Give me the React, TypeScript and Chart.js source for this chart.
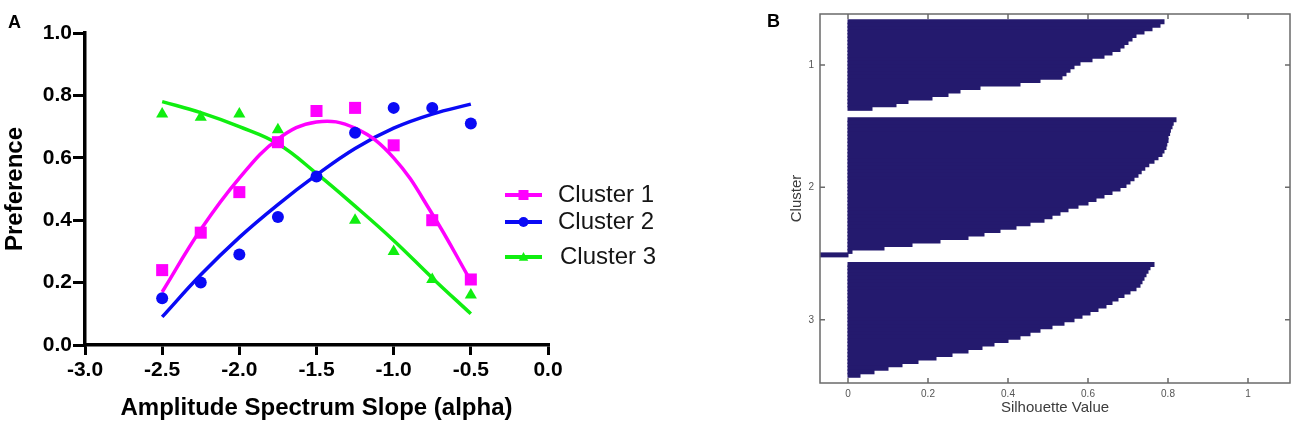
import React, { useEffect, useRef } from 'react';
import { Chart, registerables } from 'chart.js';

Chart.register(...registerables);

// ---------- Panel A data ----------
const alphaValues = [-2.5, -2.25, -2.0, -1.75, -1.5, -1.25, -1.0, -0.75, -0.5];
const cluster1Pref = [0.24, 0.36, 0.49, 0.65, 0.75, 0.76, 0.64, 0.4, 0.21];
const cluster2Pref = [0.15, 0.2, 0.29, 0.41, 0.54, 0.68, 0.76, 0.76, 0.71];
const cluster3Pref: (number | null)[] = [0.74, 0.73, 0.74, 0.69, null, 0.4, 0.3, 0.21, 0.16];
const cluster1Fit = [0.17, 0.37, 0.535, 0.66, 0.715, 0.695, 0.6, 0.42, 0.205];
const cluster2Fit = [0.09, 0.225, 0.345, 0.45, 0.545, 0.63, 0.695, 0.74, 0.772];
const cluster3Fit = [0.78, 0.745, 0.7, 0.645, 0.55, 0.445, 0.335, 0.215, 0.1];
const seriesNames = ['Cluster 1', 'Cluster 2', 'Cluster 3'];
const seriesColors = ['#ff00ff', '#0a0af5', '#10ee10'];
const seriesMarkers = ['rect', 'circle', 'triangle'];

// ---------- Panel B data (silhouette values, sorted per cluster) ----------
const silCluster1 = [0.79, 0.78, 0.76, 0.74, 0.72, 0.71, 0.7, 0.69, 0.68, 0.66, 0.64, 0.61, 0.58, 0.565, 0.555, 0.545, 0.535, 0.48, 0.43, 0.33, 0.28, 0.25, 0.21, 0.15, 0.12, 0.06];
const silCluster2 = [0.82, 0.813, 0.81, 0.806, 0.804, 0.8, 0.8, 0.797, 0.795, 0.79, 0.785, 0.775, 0.765, 0.752, 0.742, 0.733, 0.725, 0.715, 0.705, 0.695, 0.68, 0.66, 0.64, 0.62, 0.6, 0.575, 0.55, 0.53, 0.51, 0.49, 0.455, 0.42, 0.38, 0.34, 0.3, 0.23, 0.16, 0.09, 0.01, -0.07];
const silCluster3 = [0.765, 0.755, 0.75, 0.745, 0.74, 0.735, 0.73, 0.72, 0.705, 0.69, 0.675, 0.66, 0.645, 0.625, 0.605, 0.585, 0.565, 0.54, 0.51, 0.48, 0.455, 0.43, 0.4, 0.365, 0.335, 0.3, 0.26, 0.22, 0.175, 0.135, 0.1, 0.065, 0.03];
const clusterLabels = ['1', '2', '3'];
const silXTicks = [0, 0.2, 0.4, 0.6, 0.8, 1];

const FONT = '"Liberation Sans", Arial, sans-serif';

// layout of clusters along the sample axis (gaps in sample units)
const clusterGaps = [2.3, 1.75];
const edgeMargin = 1.73;

function buildSilhouette() {
  const groups = [silCluster1, silCluster2, silCluster3];
  const points: { x: number; y: number }[] = [];
  const centers: number[] = [];
  let start = 0;
  groups.forEach((g, gi) => {
    g.forEach((v, k) => points.push({ x: v, y: start + k }));
    centers.push(start + (g.length - 1) / 2);
    start += g.length + (gi < clusterGaps.length ? clusterGaps[gi] : 0);
  });
  const last = points[points.length - 1].y;
  return { points, centers, min: -0.5 - edgeMargin, max: last + 0.5 + edgeMargin };
}

function drawMarker(ctx: CanvasRenderingContext2D, style: string, x: number, y: number, r: number) {
  ctx.beginPath();
  if (style === 'rect') {
    ctx.rect(x - r, y - r, 2 * r, 2 * r);
  } else if (style === 'circle') {
    ctx.arc(x, y, r, 0, Math.PI * 2);
  } else {
    ctx.moveTo(x, y - r);
    ctx.lineTo(x + r * 0.95, y + r * 0.75);
    ctx.lineTo(x - r * 0.95, y + r * 0.75);
    ctx.closePath();
  }
  ctx.fill();
}

const legendPluginA = {
  id: 'clusterLegend',
  afterDraw(chart: any) {
    const { ctx, chartArea } = chart;
    const rows = [195, 222, 257];
    const x1 = chartArea.right - 43;
    const x2 = chartArea.right - 6;
    ctx.save();
    seriesNames.forEach((name, i) => {
      const y = rows[i];
      ctx.strokeStyle = seriesColors[i];
      ctx.fillStyle = seriesColors[i];
      ctx.lineWidth = 4;
      ctx.beginPath();
      ctx.moveTo(x1, y);
      ctx.lineTo(x2, y);
      ctx.stroke();
      drawMarker(ctx, seriesMarkers[i], (x1 + x2) / 2, y, 5);
      ctx.fillStyle = '#151515';
      ctx.font = `24px ${FONT}`;
      ctx.textBaseline = 'middle';
      ctx.textAlign = 'left';
      ctx.fillText(name, chartArea.right + 10 + (i === 2 ? 2 : 0), y);
    });
    ctx.restore();
  },
};

const panelLabel = (text: string, x: number, y: number) => ({
  id: 'panelLabel' + text,
  afterDraw(chart: any) {
    const { ctx } = chart;
    ctx.save();
    ctx.fillStyle = '#000';
    ctx.font = `bold 18px ${FONT}`;
    ctx.textBaseline = 'alphabetic';
    ctx.textAlign = 'left';
    ctx.fillText(text, x, y);
    ctx.restore();
  },
});

const matlabFrame = {
  id: 'matlabFrame',
  afterDraw(chart: any) {
    const { ctx, chartArea } = chart;
    const { left, right, top, bottom } = chartArea;
    const xs = chart.scales.x;
    const ys = chart.scales.y;
    ctx.save();
    ctx.strokeStyle = '#6a6a6a';
    ctx.lineWidth = 1.5;
    ctx.strokeRect(left, top, right - left, bottom - top);
    ctx.beginPath();
    xs.ticks.forEach((t: any) => {
      const px = xs.getPixelForValue(t.value);
      ctx.moveTo(px, bottom);
      ctx.lineTo(px, bottom - 5);
      ctx.moveTo(px, top);
      ctx.lineTo(px, top + 5);
    });
    ys.ticks.forEach((t: any) => {
      const py = ys.getPixelForValue(t.value);
      ctx.moveTo(left, py);
      ctx.lineTo(left + 5, py);
      ctx.moveTo(right, py);
      ctx.lineTo(right - 5, py);
    });
    ctx.stroke();
    ctx.restore();
  },
};

function toXY(values: (number | null)[]) {
  return alphaValues
    .map((x, i) => ({ x, y: values[i] }))
    .filter((p) => p.y !== null) as { x: number; y: number }[];
}

export default function App() {
  const refA = useRef<HTMLCanvasElement>(null);
  const refB = useRef<HTMLCanvasElement>(null);

  useEffect(() => {
    const fits = [cluster1Fit, cluster2Fit, cluster3Fit];
    const prefs = [cluster1Pref, cluster2Pref, cluster3Pref];
    const radii = [8.5, 6, 7];
    const datasets: any[] = [];
    [1, 0, 2].forEach((i) => {
      datasets.push({
        label: seriesNames[i],
        data: toXY(prefs[i]),
        showLine: false,
        pointStyle: seriesMarkers[i],
        pointRadius: radii[i],
        pointBackgroundColor: seriesColors[i],
        pointBorderWidth: 0,
        order: 1,
      });
    });
    [0, 1, 2].forEach((i) => {
      datasets.push({
        label: seriesNames[i] + ' fit',
        data: toXY(fits[i]),
        showLine: true,
        borderColor: seriesColors[i],
        borderWidth: 3.5,
        pointRadius: 0,
        tension: 0.4,
        fill: false,
        order: 2,
      });
    });

    const axisCommon = {
      grid: { drawOnChartArea: false, drawTicks: true, color: '#000', lineWidth: 3 },
      border: { display: true, color: '#000', width: 3.5 },
    };

    const chartA = new Chart(refA.current!, {
      type: 'scatter',
      data: { datasets },
      plugins: [legendPluginA, panelLabel('A', 8, 28)],
      options: {
        animation: false,
        responsive: false,
        layout: { padding: { left: 0, right: 212, top: 33, bottom: 0 } },
        plugins: { legend: { display: false }, tooltip: { enabled: false } },
        scales: {
          x: {
            type: 'linear',
            min: -3,
            max: 0,
            ...axisCommon,
            grid: { ...axisCommon.grid, tickLength: 10 },
            ticks: {
              stepSize: 0.5,
              color: '#000',
              padding: 3,
              font: { family: FONT, size: 21, weight: 'bold' },
              callback: (v: any) => Number(v).toFixed(1),
            },
            title: {
              display: true,
              text: 'Amplitude Spectrum Slope (alpha)',
              color: '#000',
              font: { family: FONT, size: 24, weight: 'bold' },
              padding: { top: 0, bottom: 6 },
            },
            afterFit: (s: any) => {
              s.height = 84;
            },
          },
          y: {
            type: 'linear',
            min: 0,
            max: 1,
            ...axisCommon,
            grid: { ...axisCommon.grid, tickLength: 12 },
            ticks: {
              stepSize: 0.2,
              color: '#000',
              padding: 1,
              font: { family: FONT, size: 21, weight: 'bold' },
              callback: (v: any) => Number(v).toFixed(1),
            },
            title: {
              display: true,
              text: 'Preference',
              color: '#000',
              font: { family: FONT, size: 24, weight: 'bold' },
              padding: { top: 1, bottom: 0 },
            },
            afterFit: (s: any) => {
              s.width = 85;
            },
          },
        },
      } as any,
    });

    const sil = buildSilhouette();
    const chartB = new Chart(refB.current!, {
      type: 'bar',
      data: {
        datasets: [
          {
            label: 'Silhouette',
            data: sil.points,
            backgroundColor: '#241a6e',
            borderWidth: 0,
            barPercentage: 1.15,
            categoryPercentage: 1,
            inflateAmount: 0.5,
          },
        ],
      },
      plugins: [matlabFrame, panelLabel('B', 7, 27)],
      options: {
        indexAxis: 'y',
        animation: false,
        responsive: false,
        layout: { padding: { left: 0, right: 10, top: 14, bottom: 0 } },
        plugins: { legend: { display: false }, tooltip: { enabled: false } },
        scales: {
          x: {
            type: 'linear',
            min: -0.07,
            max: 1.105,
            offset: false,
            grid: { display: false, drawTicks: false },
            border: { display: false },
            afterBuildTicks: (s: any) => {
              s.ticks = silXTicks.map((v) => ({ value: v }));
            },
            ticks: {
              color: '#555',
              padding: 5,
              autoSkip: false,
              maxRotation: 0,
              font: { family: FONT, size: 10 },
              callback: (v: any) => String(v),
            },
            title: {
              display: true,
              text: 'Silhouette Value',
              color: '#3c3c3c',
              font: { family: FONT, size: 15 },
              padding: { top: 0, bottom: 12 },
            },
            afterFit: (s: any) => {
              s.height = 46;
            },
          },
          y: {
            type: 'linear',
            reverse: true,
            offset: false,
            min: sil.min,
            max: sil.max,
            grid: { display: false, drawTicks: false, offset: false },
            border: { display: false },
            afterBuildTicks: (s: any) => {
              s.ticks = sil.centers.map((v) => ({ value: v }));
            },
            ticks: {
              color: '#555',
              padding: 6,
              autoSkip: false,
              font: { family: FONT, size: 10 },
              callback: (v: any) => {
                const idx = sil.centers.findIndex((c) => Math.abs(c - Number(v)) < 1e-6);
                return idx >= 0 ? clusterLabels[idx] : '';
              },
            },
            title: {
              display: true,
              text: 'Cluster',
              color: '#3c3c3c',
              font: { family: FONT, size: 15 },
              padding: { top: 28, bottom: 0 },
            },
            afterFit: (s: any) => {
              s.width = 60;
            },
          },
        },
      } as any,
    });

    return () => {
      chartA.destroy();
      chartB.destroy();
    };
  }, []);

  return (
    <div style={{ position: 'fixed', left: 0, top: 0, width: 1300, height: 429, background: '#fff' }}>
      <canvas ref={refA} width={760} height={429} style={{ position: 'absolute', left: 0, top: 0 }} />
      <canvas ref={refB} width={540} height={429} style={{ position: 'absolute', left: 760, top: 0 }} />
    </div>
  );
}
